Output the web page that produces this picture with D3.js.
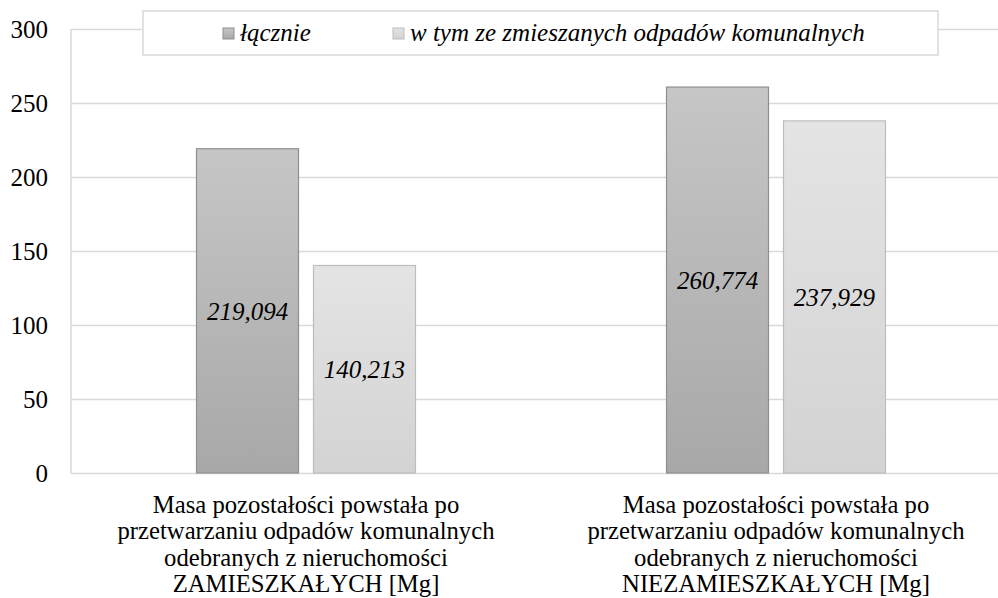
<!DOCTYPE html>
<html lang="pl">
<head>
<meta charset="UTF-8">
<title>Masa pozostałości</title>
<script src="https://d3js.org/d3.v7.min.js"></script>
<style>
  body { margin: 0; background: #fff; }
  text { font-family: "Liberation Serif", "DejaVu Serif", serif; fill: #000; }
</style>
</head>
<body>
<div id="chart"></div>
<script>
// dane
const categories = [
  ["Masa pozostałości powstała po", "przetwarzaniu odpadów komunalnych", "odebranych z nieruchomości", "ZAMIESZKAŁYCH [Mg]"],
  ["Masa pozostałości powstała po", "przetwarzaniu odpadów komunalnych", "odebranych z nieruchomości", "NIEZAMIESZKAŁYCH [Mg]"]
];
const seriesNames = ["łącznie", "w tym ze zmieszanych odpadów komunalnych"];
const lacznie = [219.094, 260.774];
const zmieszane = [140.213, 237.929];
const yTicks = [0, 50, 100, 150, 200, 250, 300];

const W = 998, H = 598;
const plotL = 71, plotR = 1011, plotT = 29, plotB = 473;

const svg = d3.select("#chart").append("svg")
  .attr("width", W).attr("height", H);

const defs = svg.append("defs");
const grads = [["g0", "#c6c6c6", "#a8a8a8"], ["g1", "#e4e4e4", "#d3d3d3"]];
grads.forEach(([id, c1, c2]) => {
  const g = defs.append("linearGradient").attr("id", id)
    .attr("x1", 0).attr("y1", 0).attr("x2", 0).attr("y2", 1);
  g.append("stop").attr("offset", "0%").attr("stop-color", c1);
  g.append("stop").attr("offset", "100%").attr("stop-color", c2);
});
const strokes = ["#8f8f8f", "#bdbdbd"];

const catKeys = categories.map((c, i) => "c" + i);
const x0 = d3.scaleBand().domain(catKeys).range([plotL, plotR]);
const x1 = d3.scaleBand().domain(seriesNames).range([0, 219]).paddingInner(0.128);
const y = d3.scaleLinear().domain([0, 300]).range([plotB, plotT]);

// siatka
svg.append("g")
  .attr("transform", `translate(${plotL},0)`)
  .call(d3.axisRight(y).tickValues(yTicks).tickSize(plotR - plotL).tickFormat(""))
  .call(g => g.select(".domain").remove())
  .call(g => g.selectAll("line").attr("stroke", "#d9d9d9").attr("stroke-width", 1.5));

// oś pionowa
svg.append("line")
  .attr("x1", plotL).attr("x2", plotL).attr("y1", y(300)).attr("y2", y(0))
  .attr("stroke", "#d9d9d9").attr("stroke-width", 1.5);

// etykiety osi Y
svg.append("g")
  .attr("transform", `translate(${plotL},0)`)
  .call(d3.axisLeft(y).tickValues(yTicks).tickSize(0).tickPadding(23))
  .call(g => g.select(".domain").remove())
  .call(g => g.selectAll("text")
    .style("font-family", '"Liberation Serif", serif')
    .style("font-size", "25px").attr("fill", "#000"));

const fmt = d3.formatLocale({decimal: ",", thousands: " ", grouping: [3], currency: ["", ""]}).format(".3f");

const rows = catKeys.map((k, i) => ({key: k, vals: [lacznie[i], zmieszane[i]]}));

const groups = svg.selectAll(".grp").data(rows).join("g")
  .attr("class", "grp")
  .attr("transform", d => `translate(${x0(d.key) + x0.bandwidth() / 2 - 109.5},0)`);

groups.selectAll("rect")
  .data(d => d.vals.map((v, j) => ({s: seriesNames[j], j, v})))
  .join("rect")
  .attr("x", d => x1(d.s))
  .attr("y", d => y(d.v))
  .attr("width", x1.bandwidth())
  .attr("height", d => y(0) - y(d.v))
  .attr("fill", d => `url(#g${d.j})`)
  .attr("stroke", d => strokes[d.j])
  .attr("stroke-width", 1.2);

groups.selectAll(".val")
  .data(d => d.vals.map((v, j) => ({s: seriesNames[j], j, v})))
  .join("text")
  .attr("class", "val")
  .attr("x", d => x1(d.s) + x1.bandwidth() / 2)
  .attr("y", d => (y(d.v) + y(0)) / 2)
  .attr("dy", "0.35em")
  .attr("text-anchor", "middle")
  .style("font-size", "25px")
  .style("font-style", "italic")
  .text(d => fmt(d.v));

// etykiety kategorii
const catLabels = svg.selectAll(".cat").data(categories).join("text")
  .attr("class", "cat")
  .attr("text-anchor", "middle")
  .style("font-size", "24.7px");
catLabels.selectAll("tspan").data((d, i) => d.map(t => ({t, i}))).join("tspan")
  .attr("x", d => x0(catKeys[d.i]) + x0.bandwidth() / 2)
  .attr("y", (d, k) => 513 + k * 26.3)
  .text(d => d.t);

// legenda
const leg = svg.append("g");
leg.append("rect")
  .attr("x", 143).attr("y", 11).attr("width", 795).attr("height", 44)
  .attr("fill", "#fff").attr("stroke", "#d9d9d9").attr("stroke-width", 1.5);
const legX = [223, 393];
seriesNames.forEach((s, j) => {
  leg.append("rect")
    .attr("x", legX[j]).attr("y", 28).attr("width", 11).attr("height", 11)
    .attr("fill", `url(#g${j})`).attr("stroke", strokes[j]);
  leg.append("text")
    .attr("x", legX[j] + 17).attr("y", 41)
    .style("font-size", "25px").style("font-style", "italic")
    .text(s);
});
</script>
</body>
</html>
